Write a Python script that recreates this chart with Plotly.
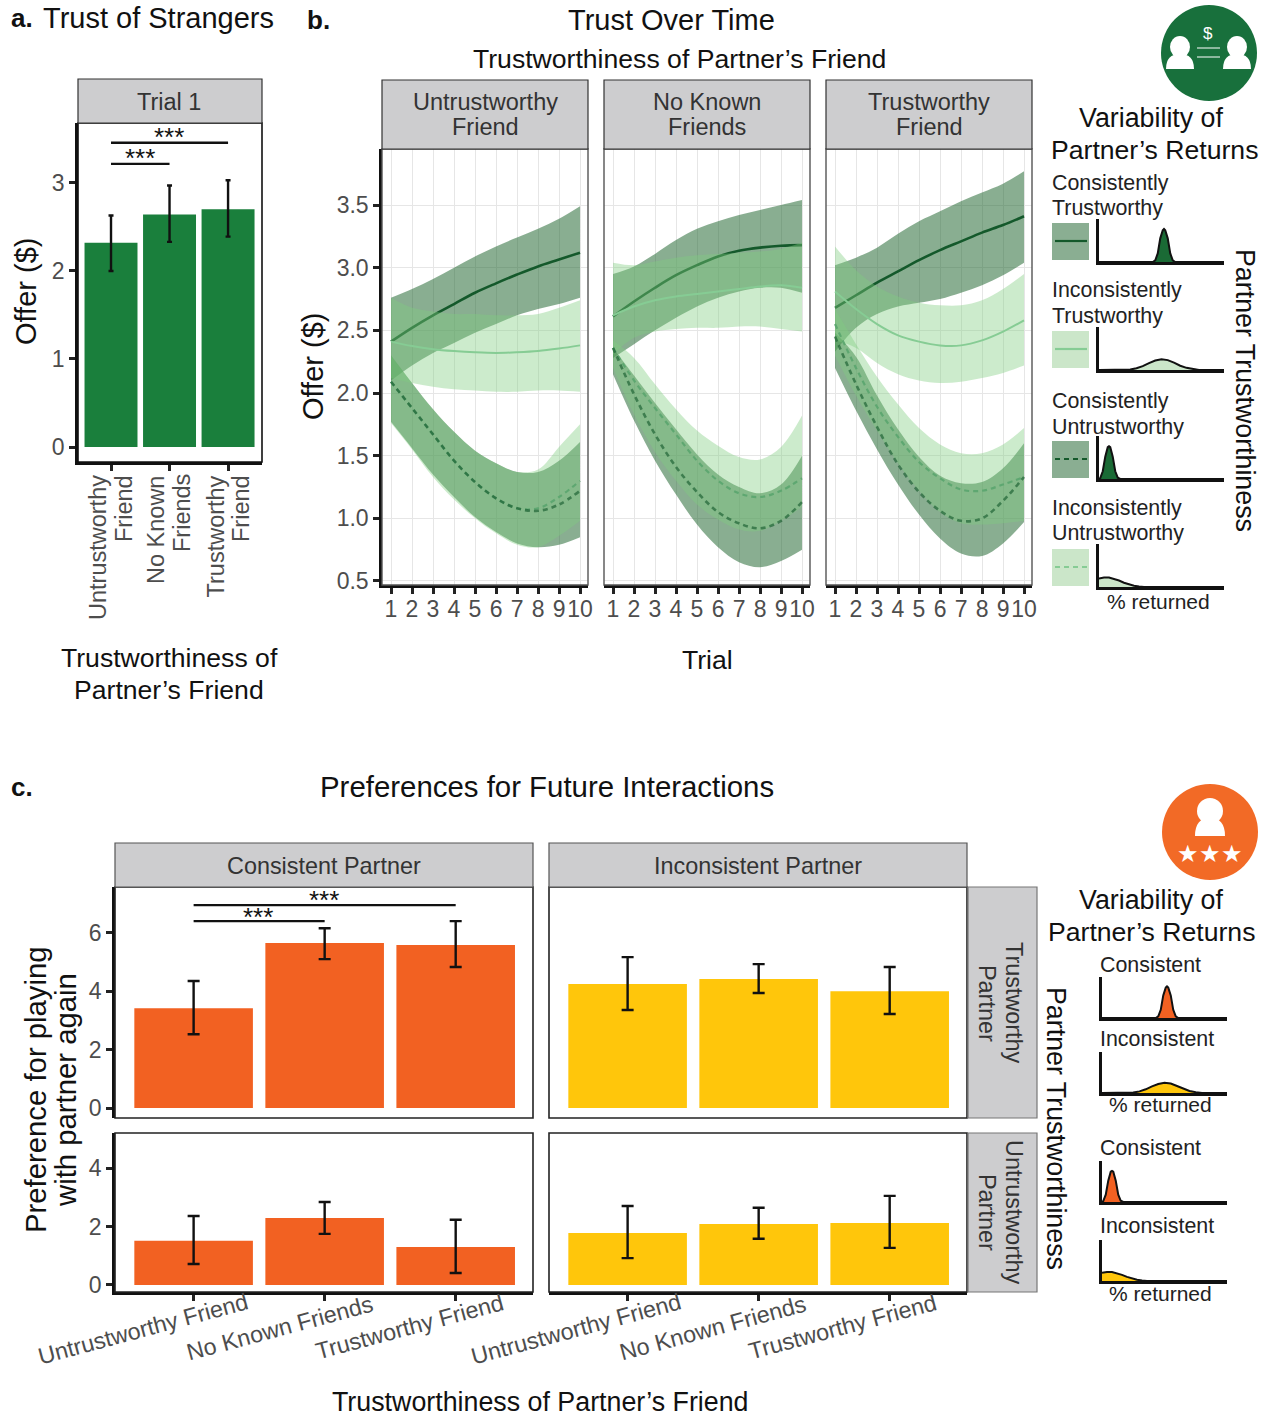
import plotly.graph_objects as go

W, H = 1270, 1416
FONT = "Liberation Sans"
GREEN, ORANGE, YELLOW = "#1A7F3C", "#F26122", "#FFC60B"
STRIP = "#CDCDCF"
TICK = "#4D4D4D"

# ---------- panel a ----------
A_CATS = ["Untrustworthy<br>Friend", "No Known<br>Friends", "Trustworthy<br>Friend"]
A_VALS = [2.32, 2.64, 2.70]
A_HIGH = [2.63, 2.97, 3.03]
A_LOW = [2.00, 2.33, 2.39]

# ---------- panel b ----------
TRIALS = [1, 2, 3, 4, 5, 6, 7, 8, 9, 10]
B_TITLES = ["Untrustworthy<br>Friend", "No Known<br>Friends", "Trustworthy<br>Friend"]

P1_CT_MID = [2.41, 2.52, 2.62, 2.71, 2.80, 2.875, 2.945, 3.01, 3.065, 3.12]
P1_CT_UP = [2.76, 2.83, 2.91, 3.00, 3.09, 3.17, 3.24, 3.31, 3.39, 3.49]
P1_CT_LO = [2.10, 2.22, 2.32, 2.40, 2.48, 2.55, 2.62, 2.67, 2.71, 2.76]
P1_IT_MID = [2.41, 2.375, 2.35, 2.335, 2.325, 2.32, 2.325, 2.335, 2.355, 2.38]
P1_IT_UP = [2.76, 2.68, 2.65, 2.63, 2.63, 2.62, 2.62, 2.63, 2.68, 2.74]
P1_IT_LO = [2.12, 2.08, 2.05, 2.03, 2.02, 2.01, 2.01, 2.02, 2.02, 2.01]
P1_CU_MID = [2.09, 1.88, 1.67, 1.46, 1.29, 1.16, 1.08, 1.06, 1.11, 1.22]
P1_CU_UP = [2.30, 2.08, 1.87, 1.69, 1.54, 1.44, 1.37, 1.37, 1.46, 1.61]
P1_CU_LO = [1.77, 1.56, 1.35, 1.17, 1.01, 0.89, 0.80, 0.77, 0.79, 0.85]
P1_IU_MID = [2.09, 1.88, 1.67, 1.46, 1.29, 1.16, 1.08, 1.08, 1.17, 1.30]
P1_IU_UP = [2.30, 2.08, 1.87, 1.69, 1.54, 1.44, 1.37, 1.39, 1.57, 1.75]
P1_IU_LO = [1.76, 1.55, 1.33, 1.15, 1.00, 0.88, 0.79, 0.77, 0.86, 0.98]

P2_CT_MID = [2.61, 2.73, 2.84, 2.94, 3.02, 3.09, 3.135, 3.16, 3.175, 3.18]
P2_CT_UP = [2.95, 3.01, 3.11, 3.22, 3.31, 3.37, 3.42, 3.46, 3.50, 3.54]
P2_CT_LO = [2.28, 2.39, 2.50, 2.60, 2.69, 2.76, 2.81, 2.84, 2.84, 2.80]
P2_IT_MID = [2.62, 2.69, 2.74, 2.77, 2.79, 2.81, 2.83, 2.85, 2.86, 2.84]
P2_IT_UP = [3.04, 3.02, 3.05, 3.08, 3.10, 3.11, 3.12, 3.13, 3.15, 3.20]
P2_IT_LO = [2.31, 2.44, 2.49, 2.51, 2.52, 2.52, 2.53, 2.53, 2.51, 2.49]
P2_CU_MID = [2.36, 1.99, 1.67, 1.41, 1.21, 1.05, 0.96, 0.92, 0.98, 1.13]
P2_CU_UP = [2.36, 2.14, 1.92, 1.71, 1.51, 1.35, 1.25, 1.20, 1.27, 1.50]
P2_CU_LO = [2.15, 1.78, 1.46, 1.19, 0.95, 0.77, 0.65, 0.61, 0.66, 0.75]
P2_IU_MID = [2.36, 2.10, 1.88, 1.67, 1.46, 1.30, 1.20, 1.17, 1.22, 1.32]
P2_IU_UP = [2.42, 2.28, 2.07, 1.87, 1.70, 1.58, 1.49, 1.47, 1.57, 1.82]
P2_IU_LO = [2.20, 1.83, 1.53, 1.30, 1.11, 0.99, 0.91, 0.90, 0.98, 1.09]

P3_CT_MID = [2.68, 2.78, 2.88, 2.97, 3.06, 3.14, 3.21, 3.28, 3.34, 3.41]
P3_CT_UP = [3.02, 3.08, 3.16, 3.27, 3.37, 3.45, 3.53, 3.60, 3.67, 3.77]
P3_CT_LO = [2.33, 2.52, 2.63, 2.69, 2.72, 2.75, 2.80, 2.86, 2.94, 3.04]
P3_IT_MID = [2.81, 2.67, 2.55, 2.46, 2.41, 2.38, 2.38, 2.42, 2.49, 2.58]
P3_IT_UP = [3.17, 2.98, 2.85, 2.77, 2.72, 2.70, 2.70, 2.74, 2.83, 2.95]
P3_IT_LO = [2.42, 2.36, 2.24, 2.15, 2.10, 2.08, 2.09, 2.12, 2.16, 2.22]
P3_CU_MID = [2.45, 2.07, 1.73, 1.43, 1.21, 1.06, 0.98, 1.00, 1.14, 1.33]
P3_CU_UP = [2.48, 2.29, 1.98, 1.71, 1.49, 1.34, 1.28, 1.29, 1.40, 1.60]
P3_CU_LO = [2.20, 1.86, 1.55, 1.27, 1.03, 0.84, 0.72, 0.70, 0.80, 0.97]
P3_IU_MID = [2.55, 2.20, 1.89, 1.65, 1.45, 1.32, 1.23, 1.22, 1.27, 1.33]
P3_IU_UP = [2.67, 2.39, 2.13, 1.91, 1.72, 1.59, 1.52, 1.52, 1.59, 1.72]
P3_IU_LO = [2.30, 1.98, 1.70, 1.44, 1.22, 1.05, 0.96, 0.95, 0.96, 0.98]

# ---------- panel c ----------
C_CATS = ["Untrustworthy Friend", "No Known Friends", "Trustworthy Friend"]
C_COLS = ["Consistent Partner", "Inconsistent Partner"]
C_CT_VALS = [3.42, 5.65, 5.58]
C_CT_HIGH = [4.35, 6.16, 6.40]
C_CT_LOW = [2.53, 5.10, 4.83]
C_IT_VALS = [4.25, 4.42, 4.00]
C_IT_HIGH = [5.17, 4.93, 4.83]
C_IT_LOW = [3.36, 3.94, 3.22]
C_CU_VALS = [1.51, 2.29, 1.30]
C_CU_HIGH = [2.36, 2.84, 2.23]
C_CU_LOW = [0.72, 1.75, 0.41]
C_IU_VALS = [1.78, 2.09, 2.12]
C_IU_HIGH = [2.70, 2.64, 3.05]
C_IU_LOW = [0.92, 1.58, 1.27]

# ---------- legend densities (% returned) ----------
D_CT_X = [0, 43, 45, 47, 49, 51, 52, 53, 55, 57, 59, 61, 100]
D_CT_Y = [0, 0, 0.04, 0.20, 0.55, 0.74, 0.77, 0.74, 0.55, 0.20, 0.04, 0, 0]
D_IT_X = [0, 15, 25, 30, 35, 40, 45, 50, 55, 60, 65, 70, 75, 80, 100]
D_IT_Y = [0, 0, 0.01, 0.04, 0.09, 0.16, 0.22, 0.25, 0.23, 0.17, 0.10, 0.05, 0.02, 0, 0]
D_CU_X = [0, 1, 3, 5, 7, 8, 9, 11, 13, 15, 17, 100]
D_CU_Y = [0, 0.02, 0.18, 0.52, 0.74, 0.76, 0.74, 0.52, 0.18, 0.03, 0, 0]
D_IU_X = [0, 4, 8, 12, 16, 20, 24, 28, 32, 36, 100]
D_IU_Y = [0.20, 0.22, 0.22, 0.19, 0.15, 0.10, 0.06, 0.03, 0.01, 0, 0]

fig = go.Figure()
layout = {}
n_ax = 0


def X(p):
    return p / W


def Y(p):
    return 1 - p / H


shapes, annos = [], []


def axes(l, r, t, b, xr, yr, xopt=None, yopt=None):
    global n_ax
    n_ax += 1
    s = "" if n_ax == 1 else str(n_ax)
    base = dict(showgrid=False, zeroline=False, showline=True, linecolor="#111", linewidth=2.5,
                ticks="outside", ticklen=6, tickwidth=2.5, tickcolor="#222",
                tickfont=dict(family=FONT, size=23, color=TICK), fixedrange=True)
    xa = dict(base, domain=[X(l), X(r)], range=xr, anchor="y" + s)
    ya = dict(base, domain=[Y(b), Y(t)], range=yr, anchor="x" + s)
    xa.update(xopt or {})
    ya.update(yopt or {})
    layout["xaxis" + s] = xa
    layout["yaxis" + s] = ya
    return "x" + s, "y" + s


def rect(l, r, t, b, fill="rgba(0,0,0,0)", line="#333", w=1.2, layer="above"):
    shapes.append(dict(type="rect", xref="paper", yref="paper", x0=X(l), x1=X(r), y0=Y(b), y1=Y(t),
                       fillcolor=fill, line=dict(color=line, width=w), layer=layer))


def text(t, x, y, size=26, color="#111", anchor="center", angle=0, bold=False, family=FONT):
    annos.append(dict(text=f"<b>{t}</b>" if bold else t, x=X(x), y=Y(y), xref="paper", yref="paper",
                      xanchor=anchor, yanchor="middle", showarrow=False, textangle=angle,
                      font=dict(family=family, size=size, color=color)))


def barpanel(xa, ya, vals, high, low, color, width, cap):
    fig.add_trace(go.Bar(x=[0, 1, 2], y=vals, xaxis=xa, yaxis=ya, width=width, marker=dict(color=color, line_width=0),
                         error_y=dict(type="data", symmetric=False,
                                      array=[h - v for h, v in zip(high, vals)],
                                      arrayminus=[v - m for v, m in zip(vals, low)],
                                      color="#111", thickness=2.4, width=cap),
                         showlegend=False))


def sig(xa, ya, x0, x1, y):
    fig.add_trace(go.Scatter(x=[x0, x1], y=[y, y], xaxis=xa, yaxis=ya, mode="lines",
                             line=dict(color="#111", width=2.4), showlegend=False))


# ---------- panel a ----------
xa, ya = axes(78, 262, 123, 462, [-0.564, 2.58], [-0.17, 3.68],
              dict(tickvals=[0, 1, 2], showticklabels=False),
              dict(tickvals=[0, 1, 2, 3]))
barpanel(xa, ya, A_VALS, A_HIGH, A_LOW, GREEN, 0.905, 2.5)
sig(xa, ya, 0, 1, 3.216)
sig(xa, ya, 0, 2, 3.455)
rect(78, 262, 123, 462, line="#111", w=1.6)
rect(78, 262, 79, 123, fill=STRIP)
text("Trial 1", 169, 102, 23.5, "#333")
text("***", 169, 137, 26)
text("***", 140, 158, 26)
for i, c in enumerate(A_CATS):
    a, b = c.split("<br>")
    cx = [111, 169, 228][i]
    text(a, cx - 13, 476 + 0.5 * [144, 108, 121][i], 23.5, TICK, angle=-90)
    text(b, cx + 13, 476 + 0.5 * [66, 74, 66][i], 23.5, TICK, angle=-90)

# ---------- panel b ----------
B_L = [382, 604, 826]
DARK_BAND = "rgba(19,93,35,0.5)"
LIGHT_BAND = "rgba(128,206,128,0.4)"
DARK_LINE = "#14592B"
LIGHT_LINE = "#86CC94"
PANELS = [
    (P1_CT_MID, P1_CT_UP, P1_CT_LO, P1_IT_MID, P1_IT_UP, P1_IT_LO, P1_CU_MID, P1_CU_UP, P1_CU_LO, P1_IU_MID, P1_IU_UP, P1_IU_LO),
    (P2_CT_MID, P2_CT_UP, P2_CT_LO, P2_IT_MID, P2_IT_UP, P2_IT_LO, P2_CU_MID, P2_CU_UP, P2_CU_LO, P2_IU_MID, P2_IU_UP, P2_IU_LO),
    (P3_CT_MID, P3_CT_UP, P3_CT_LO, P3_IT_MID, P3_IT_UP, P3_IT_LO, P3_CU_MID, P3_CU_UP, P3_CU_LO, P3_IU_MID, P3_IU_UP, P3_IU_LO),
]
SP = dict(shape="spline", smoothing=1.0)


def band(xa, ya, up, lo, fill):
    fig.add_trace(go.Scatter(x=TRIALS, y=lo, xaxis=xa, yaxis=ya, mode="lines", line=dict(width=0, **SP),
                             showlegend=False, hoverinfo="skip"))
    fig.add_trace(go.Scatter(x=TRIALS, y=up, xaxis=xa, yaxis=ya, mode="lines", line=dict(width=0, **SP),
                             fill="tonexty", fillcolor=fill, showlegend=False, hoverinfo="skip"))


def mid(xa, ya, y, color, dash, lw):
    fig.add_trace(go.Scatter(x=TRIALS, y=y, xaxis=xa, yaxis=ya, mode="lines",
                             line=dict(color=color, width=lw, dash=dash, **SP), showlegend=False))


for i, l in enumerate(B_L):
    grid = dict(showgrid=True, gridcolor="#E6E6E6", gridwidth=1)
    xa, ya = axes(l, l + 206, 149, 585, [0.571, 10.38], [0.468, 3.947],
                  dict(tickvals=TRIALS, tickangle=0, ticklabelstandoff=-4, **grid),
                  dict(tickvals=[0.5, 1.0, 1.5, 2.0, 2.5, 3.0, 3.5], tickformat=".1f", **grid)
                  if i == 0 else dict(tickvals=[0.5, 1.0, 1.5, 2.0, 2.5, 3.0, 3.5], showticklabels=False, ticks="",
                                      showline=False, **grid))
    p = PANELS[i]
    band(xa, ya, p[1], p[2], DARK_BAND)
    mid(xa, ya, p[0], DARK_LINE, "solid", 2.6)
    band(xa, ya, p[7], p[8], DARK_BAND)
    band(xa, ya, p[4], p[5], LIGHT_BAND)
    mid(xa, ya, p[3], LIGHT_LINE, "solid", 2)
    band(xa, ya, p[10], p[11], LIGHT_BAND)
    mid(xa, ya, p[9], "rgba(90,165,110,0.9)", "5px,4px", 2.2)
    mid(xa, ya, p[6], "rgba(20,89,43,0.62)", "5px,4px", 2.6)
    rect(l, l + 206, 149, 585, line="#555", w=1.4)
    rect(l, l + 206, 80, 149, fill=STRIP)
    a, b = B_TITLES[i].split("<br>")
    text(a, l + 103, 102, 23.5, "#333")
    text(b, l + 103, 127, 23.5, "#333")

# ---------- panel c ----------
C_L = [115, 549]
C_VALS = [[(C_CT_VALS, C_CT_HIGH, C_CT_LOW), (C_IT_VALS, C_IT_HIGH, C_IT_LOW)],
          [(C_CU_VALS, C_CU_HIGH, C_CU_LOW), (C_IU_VALS, C_IU_HIGH, C_IU_LOW)]]
for row, (t, b, yr, tv) in enumerate([(887, 1118, [-0.34, 7.57], [0, 2, 4, 6]), (1133, 1292, [-0.24, 5.2], [0, 2, 4])]):
    for col, l in enumerate(C_L):
        xa, ya = axes(l, l + 418, t, b, [-0.6, 2.59], yr,
                      dict(tickvals=[0, 1, 2], showticklabels=False, showline=row == 1, ticks="outside" if row == 1 else ""),
                      dict(tickvals=tv, showline=col == 0, ticks="outside" if col == 0 else "", showticklabels=col == 0))
        v = C_VALS[row][col]
        barpanel(xa, ya, v[0], v[1], v[2], ORANGE if col == 0 else YELLOW, 0.905, 6)
        if row == 0 and col == 0:
            sig(xa, ya, 0, 1, 6.40)
            sig(xa, ya, 0, 2, 6.95)
        rect(l, l + 418, t, b, line="#222", w=1.6)
for l, name in zip(C_L, C_COLS):
    rect(l, l + 418, 843, 887, fill=STRIP, line="#555")
    text(name, l + 209, 866, 23.4, "#333")
rect(968, 1037, 887, 1118, fill=STRIP, line="#777")
rect(968, 1037, 1133, 1292, fill=STRIP, line="#777")
text("Trustworthy", 1014, 1003, 23.4, "#333", angle=90)
text("Partner", 987, 1003, 23.4, "#333", angle=90)
text("Untrustworthy", 1014, 1212, 23.4, "#333", angle=90)
text("Partner", 987, 1212, 23.4, "#333", angle=90)
text("***", 324, 900, 26)
text("***", 258, 917, 26)
for off, col in [(0, 0), (433, 1)]:
    text(C_CATS[0], 143 + off, 1329, 23.3, TICK, angle=-15)
    text(C_CATS[1], 280 + off, 1328, 23.3, TICK, angle=-15)
    text(C_CATS[2], 409 + off, 1327, 23.3, TICK, angle=-15)


# ---------- legend densities ----------
def dens(l, r, t, b, dx, dy, fill):
    xa, ya = axes(l, r, t, b, [0, 100], [0, 1],
                  dict(ticks="", showticklabels=False), dict(ticks="", showticklabels=False))
    fig.add_trace(go.Scatter(x=dx, y=dy, xaxis=xa, yaxis=ya, mode="lines", fill="tozeroy", fillcolor=fill,
                             line=dict(color="#111", width=2), showlegend=False, hoverinfo="skip"))


SW_FILL = ["#8AAE92", "#CBE6C9", "#8AAE92", "#CBE6C9"]
SW_LINE = [DARK_LINE, LIGHT_LINE, DARK_LINE, LIGHT_LINE]
SW_DASH = ["solid", "solid", "5px,4px", "5px,4px"]
GL_DENS = [(D_CT_X, D_CT_Y), (D_IT_X, D_IT_Y), (D_CU_X, D_CU_Y), (D_IU_X, D_IU_Y)]
for k, (base, top) in enumerate(zip([262, 370, 479, 587], [223, 331, 441, 549])):
    dens(1099, 1224, base - 43, base, GL_DENS[k][0], GL_DENS[k][1], ["#1A6A35", "#CBE6C9", "#1A6A35", "#CBE6C9"][k])
    rect(1052, 1089, top, top + 37, fill=SW_FILL[k], line=SW_FILL[k], w=0)
    shapes.append(dict(type="line", xref="paper", yref="paper", x0=X(1055), x1=X(1087), y0=Y(top + 18), y1=Y(top + 18),
                       line=dict(color=SW_LINE[k], width=2.2, dash=SW_DASH[k])))
for k, base in enumerate([1018, 1093, 1202, 1281]):
    dens(1102, 1227, base - 41, base, GL_DENS[k][0], GL_DENS[k][1], ORANGE if k % 2 == 0 else YELLOW)

# ---------- text ----------
text("a.", 9, 18, 26, anchor="left", bold=True)
text("Trust of Strangers", 41, 18, 29, anchor="left")
text("b.", 305, 20, 26, anchor="left", bold=True)
text("Trust Over Time", 671, 20, 29)
text("Trustworthiness of Partner’s Friend", 679, 59, 26.6)
text("c.", 9, 787, 26, anchor="left", bold=True)
text("Preferences for Future Interactions", 547, 786, 29.4)
text("Offer ($)", 26, 292, 29, angle=-90)
text("Offer ($)", 313, 367, 29, angle=-90)
text("Trustworthiness of", 169, 658, 26.6)
text("Partner’s Friend", 169, 690, 26.6)
text("Trial", 707, 660, 26.6)
text("Variability of", 1151, 118, 26.8)
text("Partner’s Returns", 1154, 150, 26.6)
for t, y in [("Consistently", 183), ("Trustworthy", 208), ("Inconsistently", 290), ("Trustworthy", 316),
             ("Consistently", 401), ("Untrustworthy", 427), ("Inconsistently", 508), ("Untrustworthy", 533)]:
    text(t, 1050, y, 21.4, "#222", anchor="left")
text("% returned", 1158, 601, 21, "#222")
text("Partner Trustworthiness", 1245, 390, 26.8, angle=90)
text("Variability of", 1151, 900, 26.8)
text("Partner’s Returns", 1151, 932, 26.6)
for t, y in [("Consistent", 965), ("Inconsistent", 1039), ("Consistent", 1148), ("Inconsistent", 1226)]:
    text(t, 1098, y, 21.4, "#222", anchor="left")
text("% returned", 1160, 1104, 21, "#222")
text("% returned", 1160, 1293, 21, "#222")
text("Partner Trustworthiness", 1056, 1128, 26.8, angle=90)
text("Preference for playing", 35, 1090, 29.3, angle=-90)
text("with partner again", 65, 1090, 29.3, angle=-90)
text("Trustworthiness of Partner’s Friend", 540, 1402, 26.8)


# ---------- icons ----------
def circle(cx, cy, rx, ry, fill):
    shapes.append(dict(type="circle", xref="paper", yref="paper", x0=X(cx - rx), x1=X(cx + rx),
                       y0=Y(cy + ry), y1=Y(cy - ry), fillcolor=fill, line_width=0))


def person(cx, head_y, hrx, hry, body_t, body_b, brx):
    circle(cx, head_y, hrx, hry, "white")
    path = (f"M {X(cx - brx)} {Y(body_b)} Q {X(cx - brx)} {Y(body_t)} {X(cx)} {Y(body_t)} "
            f"Q {X(cx + brx)} {Y(body_t)} {X(cx + brx)} {Y(body_b)} Z")
    shapes.append(dict(type="path", xref="paper", yref="paper", path=path, fillcolor="white", line_width=0))


circle(1209, 53, 48, 48, "#18703C")
person(1180, 47, 10, 11, 54, 69, 14)
person(1237, 47, 10, 11, 54, 69, 14)
text("$", 1208, 34, 17, "white")
for y in (48, 57):
    shapes.append(dict(type="line", xref="paper", yref="paper", x0=X(1197), x1=X(1220), y0=Y(y), y1=Y(y),
                       line=dict(color="white", width=1)))
circle(1210, 832, 48, 48, "#F26A26")
person(1210, 811, 13, 13, 818, 836, 15)
for x in (1188, 1210, 1232):
    text("★", x, 854, 24, "white", family="DejaVu Sans")

fig.update_layout(width=W, height=H, margin=dict(l=0, r=0, t=0, b=0, autoexpand=False), autosize=False,
                  paper_bgcolor="white", plot_bgcolor="white", shapes=shapes, annotations=annos,
                  barmode="overlay", showlegend=False, **layout)
fig.write_html("out.html", post_script="document.body.style.margin='0';", config={"displayModeBar": False})
